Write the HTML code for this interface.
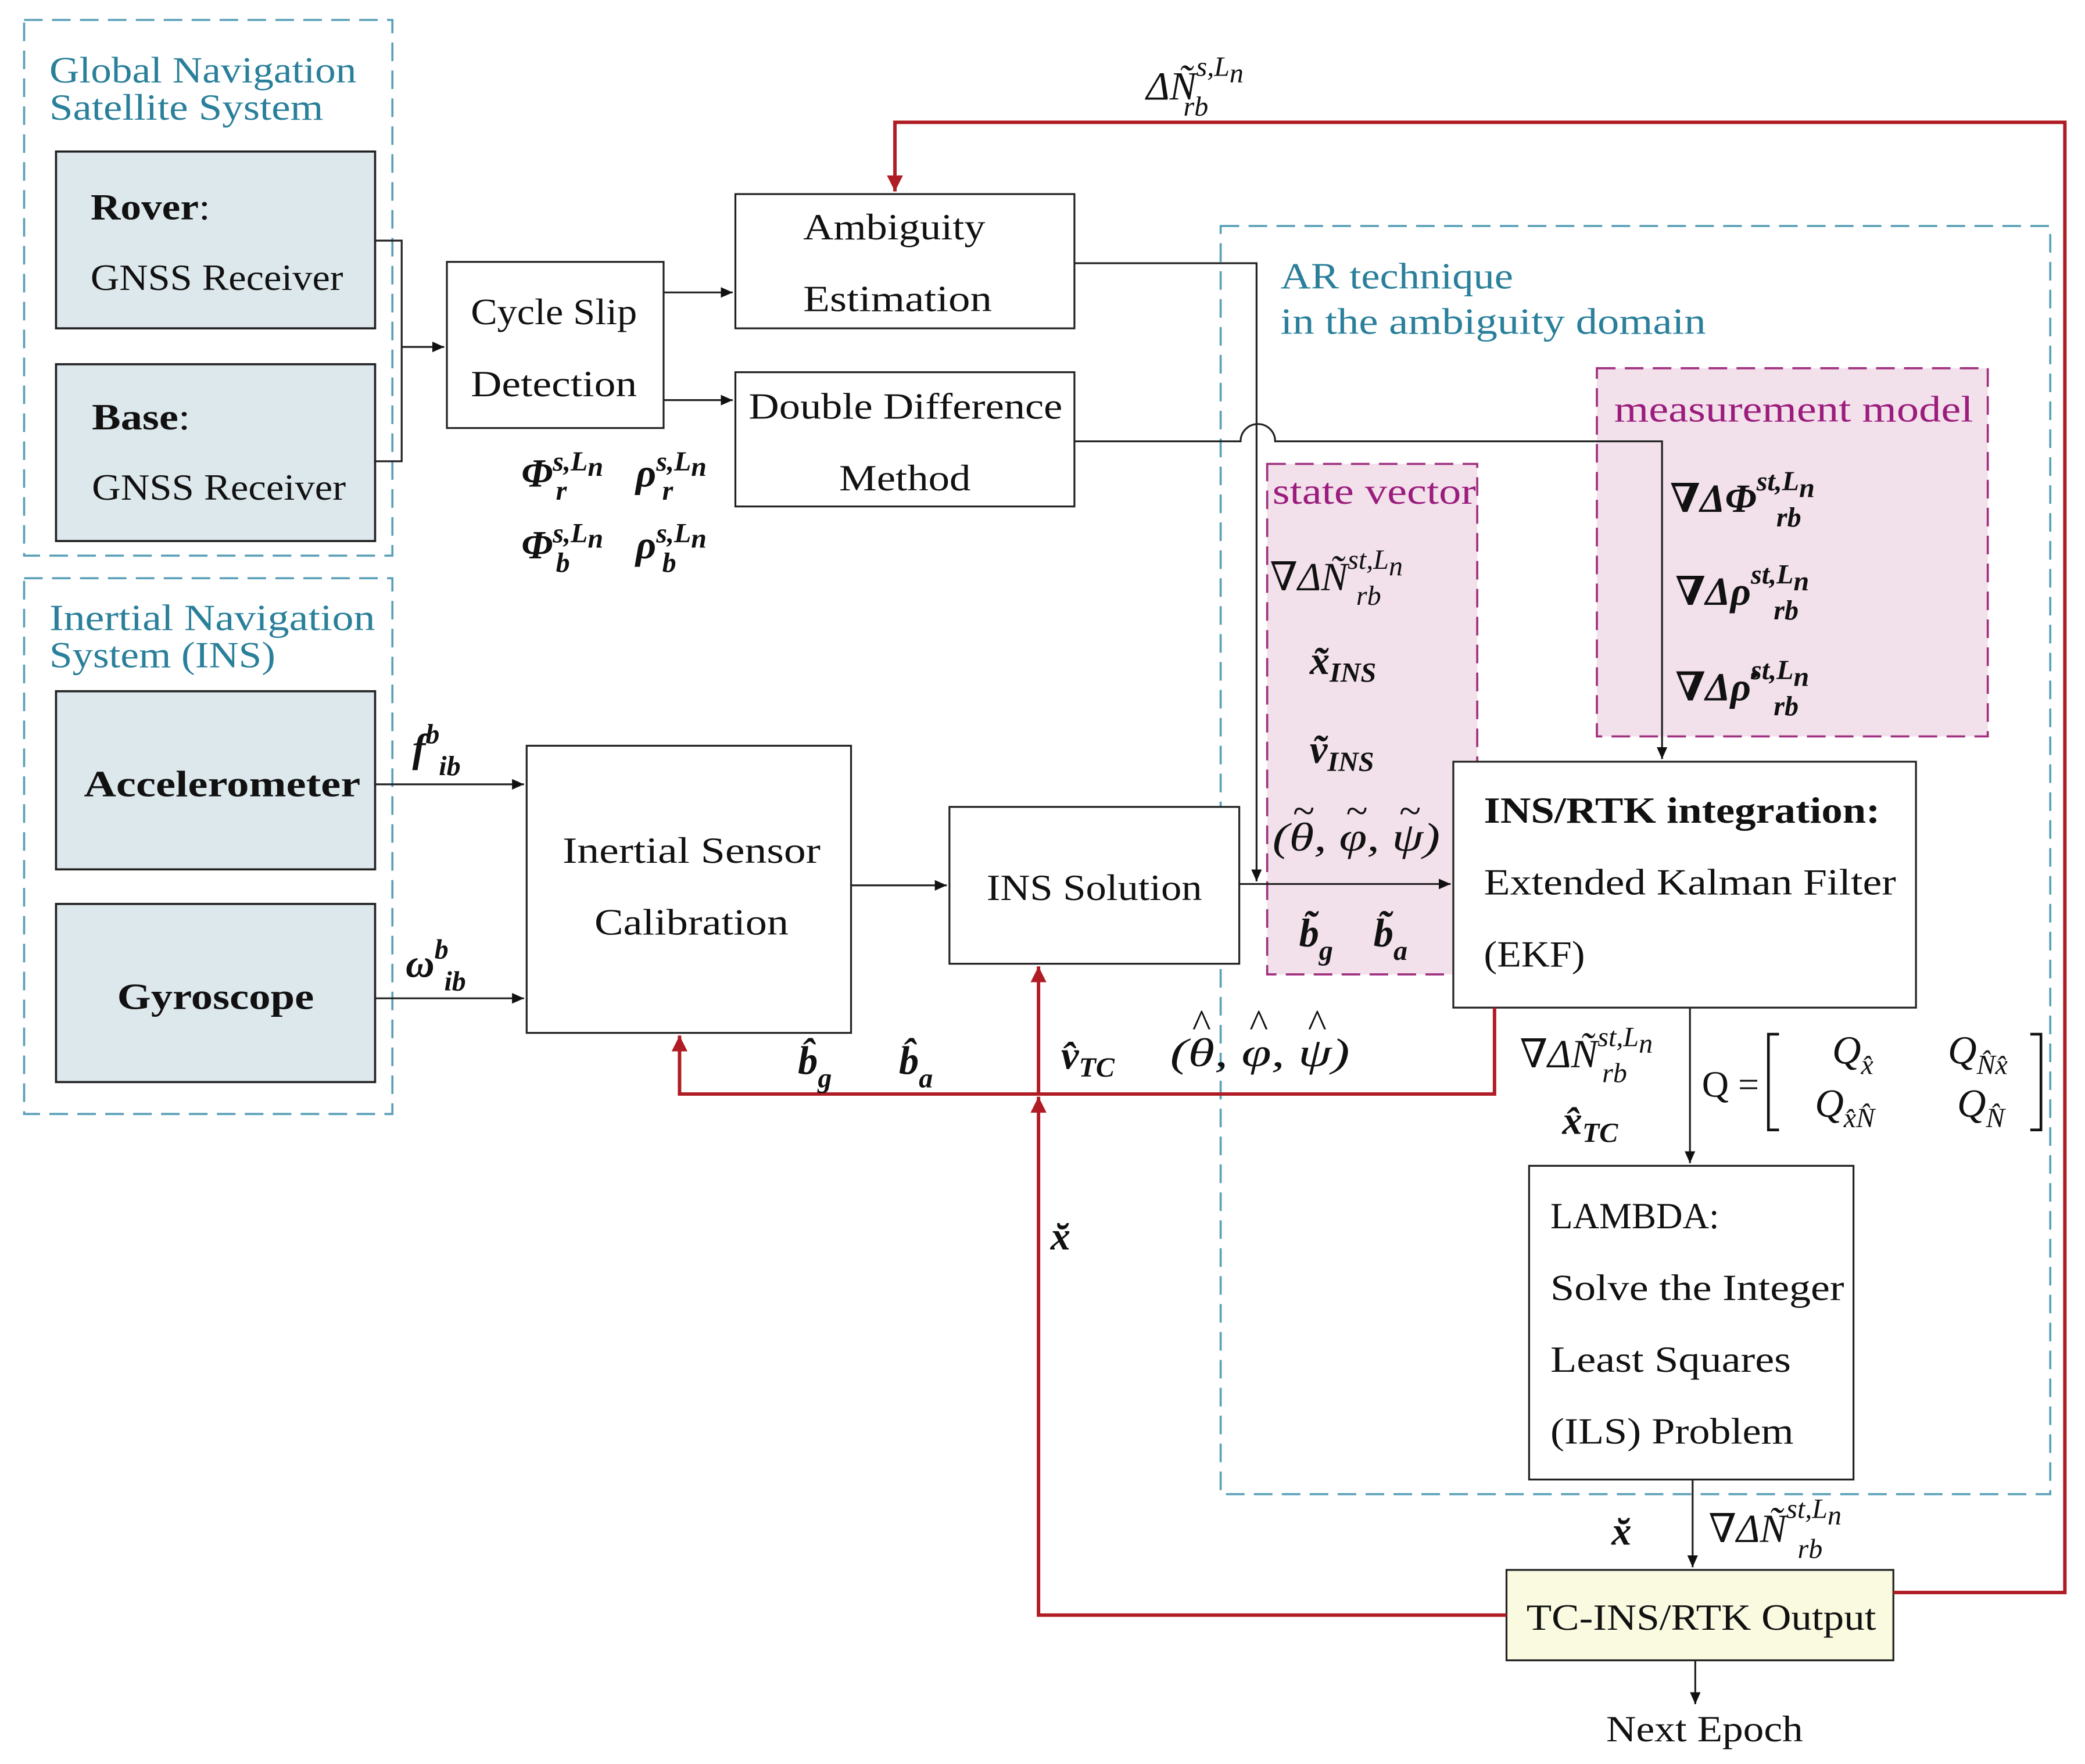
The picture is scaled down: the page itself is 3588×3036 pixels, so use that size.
<!DOCTYPE html>
<html><head><meta charset="utf-8"><style>
html,body{margin:0;padding:0;background:#fff}
svg{display:block}
text{font-family:"Liberation Serif","DejaVu Serif",serif;fill:#111}
.t{fill:#2a7f9a;font-size:28px}
.b{font-size:28px}
.m{font-style:italic;font-size:30px}
.mb{font-style:italic;font-weight:bold;font-size:30px}
.s{font-size:21px;font-style:italic}
.pk{fill:#9b1c7d;font-size:28px}
</style></head><body>
<svg width="3588" height="3036" viewBox="0 0 1568 1327" xmlns="http://www.w3.org/2000/svg">
<defs>
<marker id="a" markerWidth="10" markerHeight="10" refX="9" refY="5" orient="auto" markerUnits="userSpaceOnUse"><path d="M0,1 L9,5 L0,9 z" fill="#111"/></marker>
<marker id="r" markerWidth="14" markerHeight="14" refX="12" refY="7" orient="auto" markerUnits="userSpaceOnUse"><path d="M0,1 L12,7 L0,13 z" fill="#b01c24"/></marker>
</defs>
<g fill="none" stroke-dasharray="14,7" stroke-width="1.6">
<rect x="18" y="15" width="277" height="403" stroke="#5aa0b8"/>
<rect x="18" y="435" width="277" height="403" stroke="#5aa0b8"/>
<rect x="918" y="170" width="624" height="954" stroke="#5aa0b8"/>
<rect x="1201" y="277" width="294" height="277" stroke="#a03080" fill="#f2e0ea"/>
<rect x="953" y="349" width="158" height="384" stroke="#a03080" fill="#f2e0ea"/>
</g>
<g lengthAdjust="spacingAndGlyphs">
<text class="t" x="37" y="62" textLength="231" lengthAdjust="spacingAndGlyphs">Global Navigation</text>
<text class="t" x="37" y="90" textLength="206" lengthAdjust="spacingAndGlyphs">Satellite System</text>
<text class="t" x="37" y="474" textLength="245" lengthAdjust="spacingAndGlyphs">Inertial Navigation</text>
<text class="t" x="37" y="502" textLength="170" lengthAdjust="spacingAndGlyphs">System (INS)</text>
<text class="t" x="963" y="217" textLength="175" lengthAdjust="spacingAndGlyphs">AR technique</text>
<text class="t" x="963" y="251" textLength="320" lengthAdjust="spacingAndGlyphs">in the ambiguity domain</text>
<text class="pk" x="1214" y="317" textLength="270" lengthAdjust="spacingAndGlyphs">measurement model</text>
<text class="pk" x="957" y="379" textLength="153" lengthAdjust="spacingAndGlyphs">state vector</text>
</g>
<g stroke="#222" stroke-width="1.6" fill="#dde8ec">
<rect x="42" y="114" width="240" height="133"/>
<rect x="42" y="274" width="240" height="133"/>
<rect x="42" y="520" width="240" height="134"/>
<rect x="42" y="680" width="240" height="134"/>
</g>
<g stroke="#222" stroke-width="1.4" fill="#fff">
<rect x="336" y="197" width="163" height="125"/>
<rect x="553" y="146" width="255" height="101"/>
<rect x="553" y="280" width="255" height="101"/>
<rect x="396" y="561" width="244" height="216"/>
<rect x="714" y="607" width="218" height="118"/>
<rect x="1093" y="573" width="348" height="185"/>
<rect x="1150" y="877" width="244" height="236"/>
<rect x="1133" y="1181" width="291" height="68" fill="#fafae0"/>
</g>
<text class="b" x="68" y="165" textLength="90" lengthAdjust="spacingAndGlyphs"><tspan font-weight="bold">Rover</tspan>:</text>
<text class="b" x="68" y="218" textLength="190" lengthAdjust="spacingAndGlyphs">GNSS Receiver</text>
<text class="b" x="69" y="323" textLength="74" lengthAdjust="spacingAndGlyphs"><tspan font-weight="bold">Base</tspan>:</text>
<text class="b" x="69" y="376" textLength="191" lengthAdjust="spacingAndGlyphs">GNSS Receiver</text>
<text class="b" x="63" y="599" font-weight="bold" textLength="208" lengthAdjust="spacingAndGlyphs">Accelerometer</text>
<text class="b" x="88" y="759" font-weight="bold" textLength="148" lengthAdjust="spacingAndGlyphs">Gyroscope</text>
<text class="b" x="354" y="244" textLength="125" lengthAdjust="spacingAndGlyphs">Cycle Slip</text>
<text class="b" x="354" y="298" textLength="125" lengthAdjust="spacingAndGlyphs">Detection</text>
<text class="b" x="604" y="180" textLength="137" lengthAdjust="spacingAndGlyphs">Ambiguity</text>
<text class="b" x="604" y="234" textLength="142" lengthAdjust="spacingAndGlyphs">Estimation</text>
<text class="b" x="563" y="315" textLength="236" lengthAdjust="spacingAndGlyphs">Double Difference</text>
<text class="b" x="631" y="369" textLength="99" lengthAdjust="spacingAndGlyphs">Method</text>
<text class="b" x="423" y="649" textLength="194" lengthAdjust="spacingAndGlyphs">Inertial Sensor</text>
<text class="b" x="447" y="703" textLength="146" lengthAdjust="spacingAndGlyphs">Calibration</text>
<text class="b" x="742" y="677" textLength="162" lengthAdjust="spacingAndGlyphs">INS Solution</text>
<text class="b" x="1116" y="619" font-weight="bold" textLength="298" lengthAdjust="spacingAndGlyphs">INS/RTK integration:</text>
<text class="b" x="1116" y="673" textLength="310" lengthAdjust="spacingAndGlyphs">Extended Kalman Filter</text>
<text class="b" x="1116" y="727" textLength="76" lengthAdjust="spacingAndGlyphs">(EKF)</text>
<text class="b" x="1166" y="924" textLength="127" lengthAdjust="spacingAndGlyphs">LAMBDA:</text>
<text class="b" x="1166" y="978" textLength="221" lengthAdjust="spacingAndGlyphs">Solve the Integer</text>
<text class="b" x="1166" y="1032" textLength="181" lengthAdjust="spacingAndGlyphs">Least Squares</text>
<text class="b" x="1166" y="1086" textLength="183" lengthAdjust="spacingAndGlyphs">(ILS) Problem</text>
<text class="b" x="1148" y="1226" textLength="263" lengthAdjust="spacingAndGlyphs">TC-INS/RTK Output</text>
<text class="b" x="1208" y="1310" textLength="148" lengthAdjust="spacingAndGlyphs">Next Epoch</text>
<g stroke="#222" stroke-width="1.4" fill="none">
<path d="M282,181 H302 V347 H282"/>
<path d="M302,261 H334" marker-end="url(#a)"/>
<path d="M499,220 H551" marker-end="url(#a)"/>
<path d="M499,301 H551" marker-end="url(#a)"/>
<path d="M808,198 H945 V663" marker-end="url(#a)"/>
<path d="M808,332 H933 A13,13 0 0 1 959,332 H1250 V571" marker-end="url(#a)"/>
<path d="M282,590 H394" marker-end="url(#a)"/>
<path d="M282,751 H394" marker-end="url(#a)"/>
<path d="M640,666 H712" marker-end="url(#a)"/>
<path d="M932,665 H1091" marker-end="url(#a)"/>
<path d="M1271,758 V875" marker-end="url(#a)"/>
<path d="M1273,1113 V1179" marker-end="url(#a)"/>
<path d="M1275,1249 V1282" marker-end="url(#a)"/>
</g>
<g stroke="#b01c24" stroke-width="2.6" fill="none">
<path d="M1424,1198 H1553 V92 H673 V144" marker-end="url(#r)"/>
<path d="M1124,758 V823 H511 V779" marker-end="url(#r)"/>
<path d="M781,823 V727" marker-end="url(#r)"/>
<path d="M1133,1215 H781 V825" marker-end="url(#r)"/>
</g>
<text class="m" x="862" y="75">ΔÑ<tspan class="s" dy="-18">s,L</tspan><tspan class="s" font-size="15" dy="5">n</tspan><tspan class="s" x="890" dy="25">rb</tspan></text>
<text class="mb" x="392" y="366">Φ<tspan class="s" dy="-12">s,L</tspan><tspan class="s" font-size="15" dy="4">n</tspan><tspan class="s" x="418" dy="18">r</tspan></text>
<text class="mb" x="478" y="366">ρ<tspan class="s" dy="-12">s,L</tspan><tspan class="s" font-size="15" dy="4">n</tspan><tspan class="s" x="498" dy="18">r</tspan></text>
<text class="mb" x="392" y="420">Φ<tspan class="s" dy="-12">s,L</tspan><tspan class="s" font-size="15" dy="4">n</tspan><tspan class="s" x="418" dy="18">b</tspan></text>
<text class="mb" x="478" y="420">ρ<tspan class="s" dy="-12">s,L</tspan><tspan class="s" font-size="15" dy="4">n</tspan><tspan class="s" x="498" dy="18">b</tspan></text>
<text class="mb" x="310" y="573">f<tspan class="s" dy="-14">b</tspan><tspan class="s" x="330" dy="24">ib</tspan></text>
<text class="mb" x="305" y="735">ω<tspan class="s" dy="-14">b</tspan><tspan class="s" x="334" dy="24">ib</tspan></text>
<text class="mb" x="600" y="808">b̂<tspan class="s" dy="10">g</tspan></text>
<text class="mb" x="676" y="808">b̂<tspan class="s" dy="10">a</tspan></text>
<text class="mb" x="798" y="804">v̂<tspan class="s" dy="6">TC</tspan></text>
<text class="m" x="880" y="802" textLength="135" lengthAdjust="spacingAndGlyphs">(θ, φ, ψ)</text>
<text class="m" x="896" y="780" font-size="22">^</text>
<text class="m" x="939" y="780" font-size="22">^</text>
<text class="m" x="983" y="780" font-size="22">^</text>
<text class="mb" x="790" y="940">x̆</text>
<text class="mb" x="1212" y="1162">x̆</text>
<text class="m" x="1285" y="1160">∇ΔÑ<tspan class="s" dy="-18">st,L</tspan><tspan class="s" font-size="15" dy="5">n</tspan><tspan class="s" x="1352" dy="25">rb</tspan></text>
<text class="m" x="1143" y="803" font-size="26">∇ΔÑ<tspan class="s" dy="-16">st,L</tspan><tspan class="s" font-size="14" dy="5">n</tspan><tspan class="s" x="1205" dy="22">rb</tspan></text>
<text class="mb" x="1175" y="853">x̂<tspan class="s" dy="6">TC</tspan></text>
<text class="b" x="1280" y="825" font-size="30">Q =</text>
<path d="M1338,778 h-8 v72 h8 M1527,778 h8 v72 h-8" stroke="#111" stroke-width="2" fill="none"/>
<text class="m" x="1378" y="800" font-size="28">Q<tspan class="s" dy="8">x̂</tspan></text>
<text class="m" x="1465" y="800" font-size="28">Q<tspan class="s" dy="8">N̂x̂</tspan></text>
<text class="m" x="1365" y="840" font-size="28">Q<tspan class="s" dy="8">x̂N̂</tspan></text>
<text class="m" x="1472" y="840" font-size="28">Q<tspan class="s" dy="8">N̂</tspan></text>
<text class="mb" x="1256" y="385">∇ΔΦ<tspan class="s" dy="-16">st,L</tspan><tspan class="s" font-size="15" dy="5">n</tspan><tspan class="s" x="1336" dy="22">rb</tspan></text>
<text class="mb" x="1260" y="455">∇Δρ<tspan class="s" dy="-16">st,L</tspan><tspan class="s" font-size="15" dy="5">n</tspan><tspan class="s" x="1334" dy="22">rb</tspan></text>
<text class="mb" x="1260" y="527">∇Δρ̇<tspan class="s" dy="-16">st,L</tspan><tspan class="s" font-size="15" dy="5">n</tspan><tspan class="s" x="1334" dy="22">rb</tspan></text>
<text class="m" x="955" y="444">∇ΔÑ<tspan class="s" dy="-16">st,L</tspan><tspan class="s" font-size="15" dy="5">n</tspan><tspan class="s" x="1020" dy="22">rb</tspan></text>
<text class="mb" x="985" y="507">x̃<tspan class="s" dy="6">INS</tspan></text>
<text class="mb" x="985" y="574">ṽ<tspan class="s" dy="6">INS</tspan></text>
<text class="m" x="957" y="640" textLength="126" lengthAdjust="spacingAndGlyphs">(θ, φ, ψ)</text>
<text class="m" x="972" y="620" font-size="22">~</text>
<text class="m" x="1012" y="620" font-size="22">~</text>
<text class="m" x="1052" y="620" font-size="22">~</text>
<text class="mb" x="977" y="712">b̃<tspan class="s" dy="10">g</tspan></text>
<text class="mb" x="1033" y="712">b̃<tspan class="s" dy="10">a</tspan></text>
</svg>
</body></html>
